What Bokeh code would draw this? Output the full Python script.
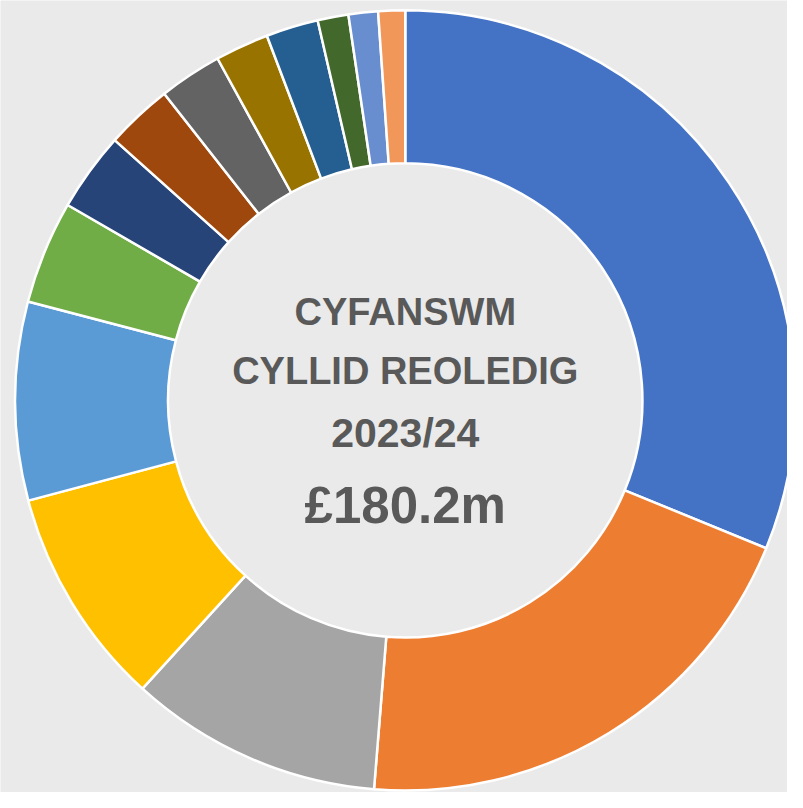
import numpy as np
from bokeh.plotting import figure
from bokeh.models import ColumnDataSource, Range1d
from bokeh.core.properties import value
from bokeh.embed import file_html
from bokeh.resources import INLINE

# Data (£m; total £180.2m)
categories = ["Cat 1", "Cat 2", "Cat 3", "Cat 4", "Cat 5", "Cat 6", "Cat 7",
              "Cat 8", "Cat 9", "Cat 10", "Cat 11", "Cat 12", "Cat 13", "Cat 14"]
values = [56.2, 36.2, 18.9, 16.4, 14.8, 7.7, 5.9, 5.0, 4.7, 4.0, 3.9, 2.3, 2.2, 2.0]
colors = ["#4472C4", "#ED7D31", "#A5A5A5", "#FFC000", "#5B9BD5", "#70AD47", "#264478",
          "#9E480E", "#636363", "#997300", "#255E91", "#43682B", "#698ED0", "#F1975A"]
title_lines = ["CYFANSWM", "CYLLID REOLEDIG", "2023/24"]
total_label = "£180.2m"

vals = np.array(values, dtype=float)
frac = vals / vals.sum()
cum_end = np.cumsum(frac) * 2 * np.pi
cum_start = cum_end - frac * 2 * np.pi

src = ColumnDataSource(dict(
    cat=categories, val=values, color=colors,
    start=np.pi / 2 - cum_start, end=np.pi / 2 - cum_end,
))

W, H = 787, 792
p = figure(width=W, height=H, output_backend="svg", toolbar_location=None,
           x_range=Range1d(-413, 390), y_range=Range1d(-400, 408),
           min_border=0)
p.axis.visible = False
p.grid.visible = False
p.outline_line_color = None
p.background_fill_color = "#eaeaea"
p.border_fill_color = "#eaeaea"

p.annular_wedge(x=0, y=0, inner_radius=242, outer_radius=398,
                start_angle="start", end_angle="end", direction="clock",
                fill_color="color", line_color="white", line_width=2.5,
                source=src)

txt_src = ColumnDataSource(dict(
    x=[0, 0, 0], y=[90, 30, -33], t=title_lines, size=["38px", "38px", "41px"]))
p.text(x="x", y="y", text="t", source=txt_src, text_align="center",
       text_baseline="middle", text_color="#595959", text_font_size="size",
       text_font=value("Liberation Sans"), text_font_style="bold")
p.text(x=[0], y=[-107], text=[total_label], text_align="center",
       text_baseline="middle", text_color="#595959", text_font_size="51px",
       text_font=value("Liberation Sans"), text_font_style="bold")

open("out.html", "w").write(file_html(p, INLINE))
